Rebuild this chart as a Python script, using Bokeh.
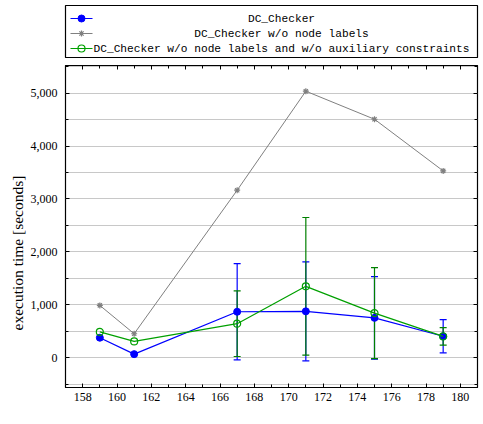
from bokeh.plotting import figure
from bokeh.layouts import column
from bokeh.models import (ColumnDataSource, Whisker, TeeHead, LinearAxis, Title,
                          SingleIntervalTicker, NumeralTickFormatter, Range1d,
                          CustomJSTickFormatter)
from bokeh.core.properties import value
from bokeh.embed import file_html
from bokeh.resources import INLINE

# ---- data ----
x_vals = [159, 161, 167, 171, 175, 179]
dc_checker = [380, 70, 870, 878, 755, 407]
dc_checker_err = [0, 0, 910, 935, 780, 313]
no_labels = [990, 455, 3165, 5035, 4505, 3530]
no_labels_no_aux = [490, 310, 645, 1350, 845, 405]
no_labels_no_aux_err = [0, 0, 620, 1300, 860, 165]

names = ["DC_Checker", "DC_Checker w/o node labels",
         "DC_Checker w/o node labels and w/o auxiliary constraints"]
y_label = "execution time [seconds]"

BLUE = "#0000ff"
GRAY = "#808080"
GREEN = "#00a000"
DKGREEN = "#008000"
SERIF = "Liberation Serif"
MONO = "Liberation Mono"

# ---------------- main plot ----------------
p = figure(width=483, height=362, output_backend="svg", toolbar_location=None,
           x_range=Range1d(157, 181), y_range=Range1d(-560, 5520),
           min_border_left=63, min_border_right=6, min_border_bottom=33,
           min_border_top=7)
p.outline_line_color = "black"
p.outline_line_width = 1.2
p.background_fill_color = "white"

blue_idx = [i for i, e in enumerate(dc_checker_err) if e > 0]
green_idx = [i for i, e in enumerate(no_labels_no_aux_err) if e > 0]
src_b = ColumnDataSource(dict(
    x=[x_vals[i] for i in blue_idx],
    lo=[dc_checker[i] - dc_checker_err[i] for i in blue_idx],
    hi=[dc_checker[i] + dc_checker_err[i] for i in blue_idx]))
src_g = ColumnDataSource(dict(
    x=[x_vals[i] for i in green_idx],
    lo=[no_labels_no_aux[i] - no_labels_no_aux_err[i] for i in green_idx],
    hi=[no_labels_no_aux[i] + no_labels_no_aux_err[i] for i in green_idx]))

for src, col in ((src_b, BLUE), (src_g, DKGREEN)):
    w = Whisker(source=src, base="x", lower="lo", upper="hi", line_color=col,
                line_width=1.2,
                upper_head=TeeHead(size=7, line_color=col, line_width=1.2),
                lower_head=TeeHead(size=7, line_color=col, line_width=1.2))
    p.add_layout(w)

p.line(x_vals, no_labels, line_color=GRAY, line_width=1)
p.scatter(x_vals, no_labels, marker="asterisk", size=6,
          line_color=GRAY, line_width=1.2)
p.line(x_vals, dc_checker, line_color=BLUE, line_width=1.2)
p.scatter(x_vals, dc_checker, marker="circle", size=7,
          fill_color=BLUE, line_color=BLUE)
p.line(x_vals, no_labels_no_aux, line_color=GREEN, line_width=1.2)
p.scatter(x_vals, no_labels_no_aux, marker="circle", size=7,
          fill_color=None, line_color=GREEN, line_width=1.2)

p.xaxis.ticker = SingleIntervalTicker(interval=2, num_minor_ticks=2)
p.yaxis.ticker = SingleIntervalTicker(interval=1000, num_minor_ticks=2)
p.yaxis.formatter = NumeralTickFormatter(format="0,0")
for ax in (p.xaxis[0], p.yaxis[0]):
    ax.axis_line_color = None
    ax.major_tick_in = 4
    ax.major_tick_out = 0
    ax.minor_tick_in = 3
    ax.minor_tick_out = 0
    ax.major_label_text_font = SERIF
    ax.major_label_text_font_size = "12px"
    ax.major_label_text_color = "black"
p.xaxis.major_label_standoff = 5
p.yaxis.major_label_standoff = 8

# y-axis title, shifted downwards like in the original
p.add_layout(Title(text=y_label, align="left", offset=57, text_font=SERIF,
                   text_font_size="15.5px", text_font_style="normal",
                   text_color="black", standoff=4), "left")

# tick-only axes on the top and right
blank = CustomJSTickFormatter(code="return ''")
top_ax = LinearAxis(ticker=SingleIntervalTicker(interval=2, num_minor_ticks=2),
                    formatter=blank, axis_line_color=None, major_tick_in=4,
                    major_tick_out=0, minor_tick_in=3, minor_tick_out=0,
                    major_label_standoff=0)
right_ax = LinearAxis(ticker=SingleIntervalTicker(interval=1000, num_minor_ticks=2),
                      formatter=blank, axis_line_color=None, major_tick_in=4,
                      major_tick_out=0, minor_tick_in=3, minor_tick_out=0,
                      major_label_standoff=0)
p.add_layout(top_ax, "above")
p.add_layout(right_ax, "right")

p.xgrid.grid_line_color = None
p.ygrid.grid_line_color = "#c8c8c8"
p.ygrid.minor_grid_line_color = "#c8c8c8"

# ---------------- legend panel ----------------
lg = figure(width=483, height=58, output_backend="svg", toolbar_location=None,
            x_range=Range1d(0, 412), y_range=Range1d(0, 53),
            min_border_left=65, min_border_right=6, min_border_top=5,
            min_border_bottom=0)
lg.axis.visible = False
lg.grid.visible = False
lg.outline_line_color = "black"
lg.outline_line_width = 1.2

rows_y = [40, 25, 10]
colors = [BLUE, GRAY, GREEN]
lg.segment(x0=[5] * 3, y0=rows_y, x1=[27] * 3, y1=rows_y,
           line_color=colors, line_width=1.2)
lg.scatter([16], [rows_y[0]], marker="circle", size=7, fill_color=BLUE, line_color=BLUE)
lg.scatter([16], [rows_y[1]], marker="asterisk", size=6, line_color=GRAY, line_width=1.2)
lg.scatter([16], [rows_y[2]], marker="circle", size=7, fill_color=None,
           line_color=GREEN, line_width=1.2)
lg.text(x=[216] * 3, y=rows_y, text=names, text_font=value(MONO),
        text_font_size="11.2px", text_align="center", text_baseline="middle",
        text_color="black")

layout = column(lg, p, spacing=0)
open("out.html", "w").write(file_html(layout, INLINE))
